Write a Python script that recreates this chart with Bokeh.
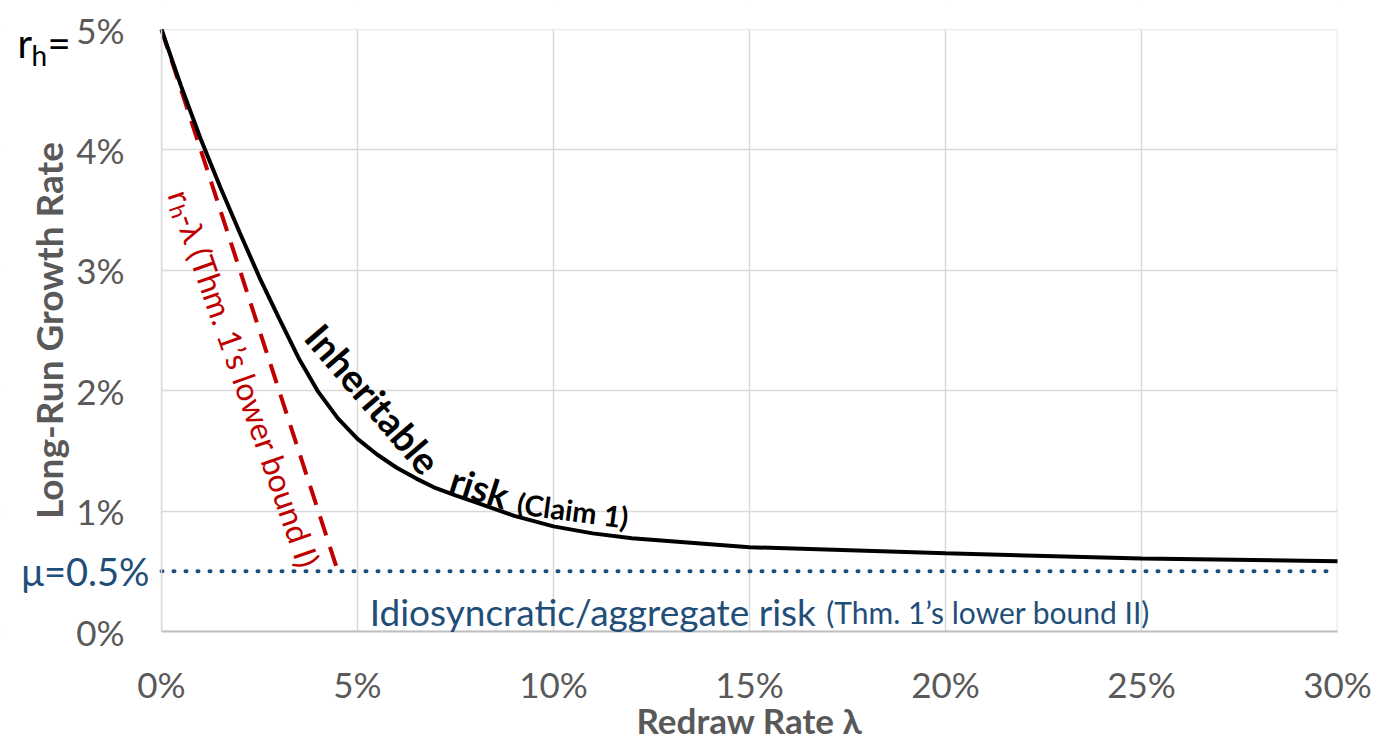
import math
from bokeh.plotting import figure
from bokeh.models import FixedTicker, PrintfTickFormatter, Label, Range1d, BoxAnnotation
from bokeh.embed import file_html
from bokeh.resources import INLINE

# ---- data ----
redraw_rate = [0, 0.5, 1, 1.5, 2, 2.5, 3, 3.5, 4, 4.5, 5, 5.5, 6, 6.5, 7, 7.5, 8, 9, 10, 11, 12, 14, 15, 20, 25, 30]
inheritable_growth = [5.0, 4.53, 4.09, 3.69, 3.31, 2.94, 2.60, 2.27, 1.99, 1.77, 1.60, 1.47, 1.36, 1.27, 1.19, 1.13, 1.075, 0.96, 0.873, 0.815, 0.775, 0.725, 0.70, 0.649, 0.607, 0.583]
bound1_x = [0, 4.5]
bound1_y = [5.0, 0.5]
bound2_x = [0, 30]
bound2_y = [0.5, 0.5]
x_ticks = [0, 5, 10, 15, 20, 25, 30]
y_ticks = [0, 1, 2, 3, 4, 5]

FONT = "Lato"
GRAY = "#595959"
BLUE = "#1F4E79"
RED = "#C00000"
GRID = "#D9D9D9"

# canvas geometry (pixels): plotting area spans x 161..1337, y 29..631
W, H = 1375, 742
PL, PR, PT, PB = 161, 1337, 29, 631
XMAX, YMAX = 30, 5
sx = (PR - PL) / XMAX
sy = (PB - PT) / YMAX
x_range = Range1d(-PL / sx, XMAX + (W - PR) / sx)
y_range = Range1d(-(H - PB) / sy, YMAX + PT / sy)

p = figure(width=W, height=H, min_border=0, x_range=x_range, y_range=y_range,
           output_backend="svg", toolbar_location=None)
p.background_fill_color = "white"
p.border_fill_color = "white"
p.outline_line_color = None

for ax in (p.xaxis[0], p.yaxis[0]):
    ax.fixed_location = 0
    ax.major_tick_line_color = None
    ax.minor_tick_line_color = None
    ax.major_label_text_font = FONT
    ax.major_label_text_font_size = "35px"
    ax.major_label_text_color = GRAY
    ax.formatter = PrintfTickFormatter(format="%d%%")

p.xaxis.ticker = FixedTicker(ticks=x_ticks)
p.yaxis.ticker = FixedTicker(ticks=y_ticks)
p.xaxis.bounds = (0, XMAX)
p.yaxis.bounds = (0, YMAX)
p.xaxis.major_label_standoff = 25
p.yaxis.major_label_standoff = 31
p.xaxis.axis_line_color = "#BFBFBF"
p.xaxis.axis_line_width = 2
p.yaxis.axis_line_color = GRID
p.yaxis.axis_line_width = 1.5

p.xgrid.ticker = FixedTicker(ticks=x_ticks)
p.ygrid.ticker = FixedTicker(ticks=y_ticks)
p.grid.grid_line_color = GRID
p.grid.grid_line_width = 1.5

# keep grid lines inside the plotting area
for kw in (dict(right=0), dict(left=XMAX), dict(top=0), dict(bottom=YMAX)):
    p.add_layout(BoxAnnotation(fill_color="white", fill_alpha=1.0, line_color=None,
                               level="underlay", **kw))

# ---- series ----
p.line(bound2_x, bound2_y, line_color=BLUE, line_width=4, line_dash="1 11", line_cap="round")
p.line(bound1_x, bound1_y, line_color=RED, line_width=4, line_dash="20 12")
p.line(redraw_rate, inheritable_growth, line_color="black", line_width=4)

def lab(x, y, text, size, color, **kw):
    p.add_layout(Label(x=x, y=y, text=text, text_font=FONT, text_font_size=size,
                       text_color=color, **kw))

# axis titles
lab(-(PL - 48) / sx, YMAX / 2, "Long-Run Growth Rate", "37px", GRAY, angle=math.pi / 2,
    text_align="center", text_baseline="middle", text_font_style="bold")
lab(XMAX / 2, -(719 - PB) / sy, "Redraw Rate λ", "35px", GRAY,
    text_align="center", text_baseline="middle", text_font_style="bold")

# r_h= label near the top tick
lab(0, YMAX, "r", "40px", "black", x_offset=-144, y_offset=-13, text_baseline="alphabetic")
lab(0, YMAX, "h", "28px", "black", x_offset=-130, y_offset=-25, text_baseline="alphabetic")
lab(0, YMAX, "=", "40px", "black", x_offset=-114, y_offset=-13, text_baseline="alphabetic")
# mu label
lab(0, 0.5, "μ=0.5%", "38px", BLUE, x_offset=-12, text_align="right", text_baseline="middle")

# red rotated label
ang = -1.234
lab(0.45, 3.66, "r", "32px", RED, angle=ang, text_baseline="middle")
lab(0.45, 3.66, "h", "22px", RED, angle=ang, text_baseline="middle", x_offset=-2.5, y_offset=-14.5)
lab(0.45, 3.66, "-λ (Thm. 1’s lower bound I)", "32px", RED, angle=ang, text_baseline="middle",
    x_offset=8, y_offset=-23.5)

# black curve label
lab(3.89, 2.51, "Inheritable", "38px", "black", angle=-0.86, text_baseline="middle", text_font_style="bold")
lab(7.40, 1.275, "risk", "37px", "black", angle=-0.31, text_baseline="alphabetic", text_font_style="bold")
lab(9.08, 1.07, "(Claim 1)", "29px", "black", angle=-0.13, text_baseline="alphabetic", text_font_style="bold")

# blue label
lab(5.31, 0.162, "Idiosyncratic/aggregate risk", "37px", BLUE, text_baseline="alphabetic")
lab(16.96, 0.162, "(Thm. 1’s lower bound II)", "30px", BLUE, text_baseline="alphabetic")

open("out.html", "w").write(file_html(p, INLINE))
